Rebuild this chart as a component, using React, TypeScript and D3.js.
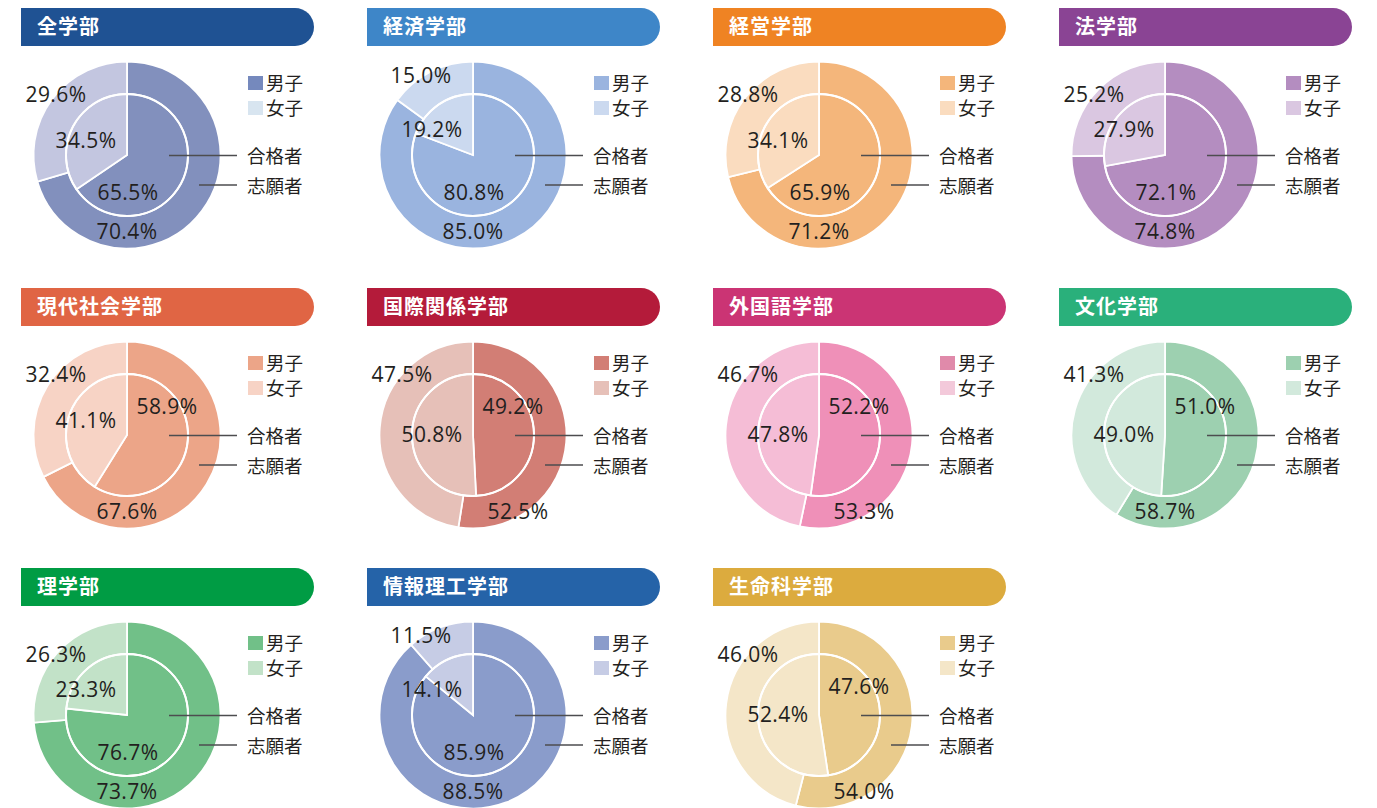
import React from 'react';
import * as d3 from 'd3';

const faculties = ['全学部', '経済学部', '経営学部', '法学部', '現代社会学部', '国際関係学部', '外国語学部', '文化学部', '理学部', '情報理工学部', '生命科学部'];
const applicantMale = [70.4, 85.0, 71.2, 74.8, 67.6, 52.5, 53.3, 58.7, 73.7, 88.5, 54.0];
const applicantFemale = [29.6, 15.0, 28.8, 25.2, 32.4, 47.5, 46.7, 41.3, 26.3, 11.5, 46.0];
const passerMale = [65.5, 80.8, 65.9, 72.1, 58.9, 49.2, 52.2, 51.0, 76.7, 85.9, 47.6];
const passerFemale = [34.5, 19.2, 34.1, 27.9, 41.1, 50.8, 47.8, 49.0, 23.3, 14.1, 52.4];

const headerColors = ['#1f5293', '#3e86c8', '#ef8323', '#8a4494', '#e06544', '#b41b3a', '#cb3474', '#2ab07b', '#009c44', '#2563a8', '#dcab3e'];
const maleColors = ['#8290bd', '#9ab4df', '#f4b67b', '#b48dc0', '#eca588', '#d27e75', '#ef90b8', '#9dd0b0', '#71c088', '#8a9ccb', '#e9cb8c'];
const femaleColors = ['#c3c6e0', '#cbd9ef', '#fadcbf', '#dac7e1', '#f7d3c5', '#e6c0b8', '#f5bdd6', '#d2e9dc', '#c2e2c8', '#c6cce5', '#f4e6c8'];
const legendMaleColors = ['#7589bd', '#9ab4df', '#f4b67b', '#b48dc0', '#eca588', '#d27e75', '#e08aaa', '#9dd0b0', '#71c088', '#8a9ccb', '#e9cb8c'];
const legendFemaleColors = ['#d8e5f0', '#cbd9ef', '#fadcbf', '#dac7e1', '#f7d3c5', '#e6c0b8', '#f3c9da', '#d2e9dc', '#c2e2c8', '#c6cce5', '#f4e6c8'];

const legendLabels = ['男子', '女子'];
const ringLabels = ['合格者', '志願者'];

const W = 1377;
const H = 808;
const COLS = 4;
const colStep = 346;
const rowStep = 280;
const R_OUT = 93.5;
const R_IN = 61;
const TEXT = '#231f20';
const NUM_FONT = '"Open Sans", "Noto Sans", sans-serif';
const JP_FONT = '"Noto Sans CJK JP", "Noto Sans", sans-serif';

const pie = d3.pie<number>().sort(null).value((d) => d);
const arcOut = d3.arc<d3.PieArcDatum<number>>().innerRadius(0).outerRadius(R_OUT);
const arcIn = d3.arc<d3.PieArcDatum<number>>().innerRadius(0).outerRadius(R_IN);

function fmt(v: number) {
  return v.toFixed(1) + '%';
}

function femaleOuterPos(v: number): [number, number] {
  return v < 20 ? [-52, -80] : [-71, -61];
}
function femaleInnerPos(v: number): [number, number] {
  if (v < 30) return [-41, -26];
  if (v < 45) return [-41, -15];
  return [-41, -1];
}
function maleInnerPos(v: number): [number, number] {
  return v > 60 ? [1, 37] : [40, -29];
}
function maleOuterPos(v: number): [number, number] {
  return v < 56 ? [45, 76] : [0, 76];
}

function Panel({ i }: { i: number }) {
  const col = i % COLS;
  const row = Math.floor(i / COLS);
  const bx = 21 + col * colStep;
  const by = 8 + row * rowStep;
  const bw = 293;
  const bh = 38;
  const cx = 127 + col * colStep;
  const cy = 155 + row * rowStep;
  const rr = 19;
  const headerPath = `M${bx},${by} H${bx + bw - rr} A${rr},${rr} 0 0 1 ${bx + bw},${by + rr} A${rr},${rr} 0 0 1 ${bx + bw - rr},${by + bh} H${bx} Z`;
  const outer = pie([applicantMale[i], applicantFemale[i]]);
  const inner = pie([passerMale[i], passerFemale[i]]);
  const cols = [maleColors[i], femaleColors[i]];
  const legCols = [legendMaleColors[i], legendFemaleColors[i]];
  const numLabels: { v: number; p: [number, number] }[] = [
    { v: applicantFemale[i], p: femaleOuterPos(applicantFemale[i]) },
    { v: passerFemale[i], p: femaleInnerPos(passerFemale[i]) },
    { v: passerMale[i], p: maleInnerPos(passerMale[i]) },
    { v: applicantMale[i], p: maleOuterPos(applicantMale[i]) },
  ];
  const lx = cx + 121;
  return (
    <g>
      <path d={headerPath} fill={headerColors[i]} />
      <text x={bx + 16} y={by + bh / 2} dy="0.36em" fill="#fff" fontFamily={JP_FONT} fontWeight={700} fontSize={20} letterSpacing={1}>
        {faculties[i]}
      </text>
      <g transform={`translate(${cx},${cy})`}>
        {outer.map((d, k) => (
          <path key={'o' + k} d={arcOut(d) || ''} fill={cols[k]} stroke="#fff" strokeWidth={1.8} />
        ))}
        {inner.map((d, k) => (
          <path key={'i' + k} d={arcIn(d) || ''} fill={cols[k]} stroke="#fff" strokeWidth={1.8} />
        ))}
        <circle r={R_IN} fill="none" stroke="#fff" strokeWidth={2} />
        <line x1={42} x2={110} y1={0.5} y2={0.5} stroke="#4d4d4f" strokeWidth={1.3} />
        <line x1={72} x2={110} y1={30} y2={30} stroke="#4d4d4f" strokeWidth={1.3} />
        {numLabels.map((l, k) => (
          <text key={'n' + k} x={l.p[0]} y={l.p[1]} dy="0.36em" textAnchor="middle" fill={TEXT} fontFamily={NUM_FONT} fontWeight={400} fontSize={21} letterSpacing={0.4}>
            {fmt(l.v)}
          </text>
        ))}
      </g>
      {legendLabels.map((lab, k) => (
        <g key={'l' + k}>
          <rect x={lx} y={cy - 79 + k * 25} width={15} height={14} fill={legCols[k]} />
          <text x={lx + 18} y={cy - 72 + k * 25} dy="0.36em" fill={TEXT} fontFamily={JP_FONT} fontSize={18.5}>
            {lab}
          </text>
        </g>
      ))}
      {ringLabels.map((lab, k) => (
        <text key={'r' + k} x={cx + 120} y={cy + 1 + k * 30} dy="0.36em" fill={TEXT} fontFamily={JP_FONT} fontSize={18.5}>
          {lab}
        </text>
      ))}
    </g>
  );
}

export default function App() {
  return (
    <svg width={W} height={H} viewBox={`0 0 ${W} ${H}`} style={{ position: 'absolute', left: 0, top: 0, background: '#fff' }}>
      <rect width={W} height={H} fill="#fff" />
      {faculties.map((_, i) => (
        <Panel key={i} i={i} />
      ))}
    </svg>
  );
}
